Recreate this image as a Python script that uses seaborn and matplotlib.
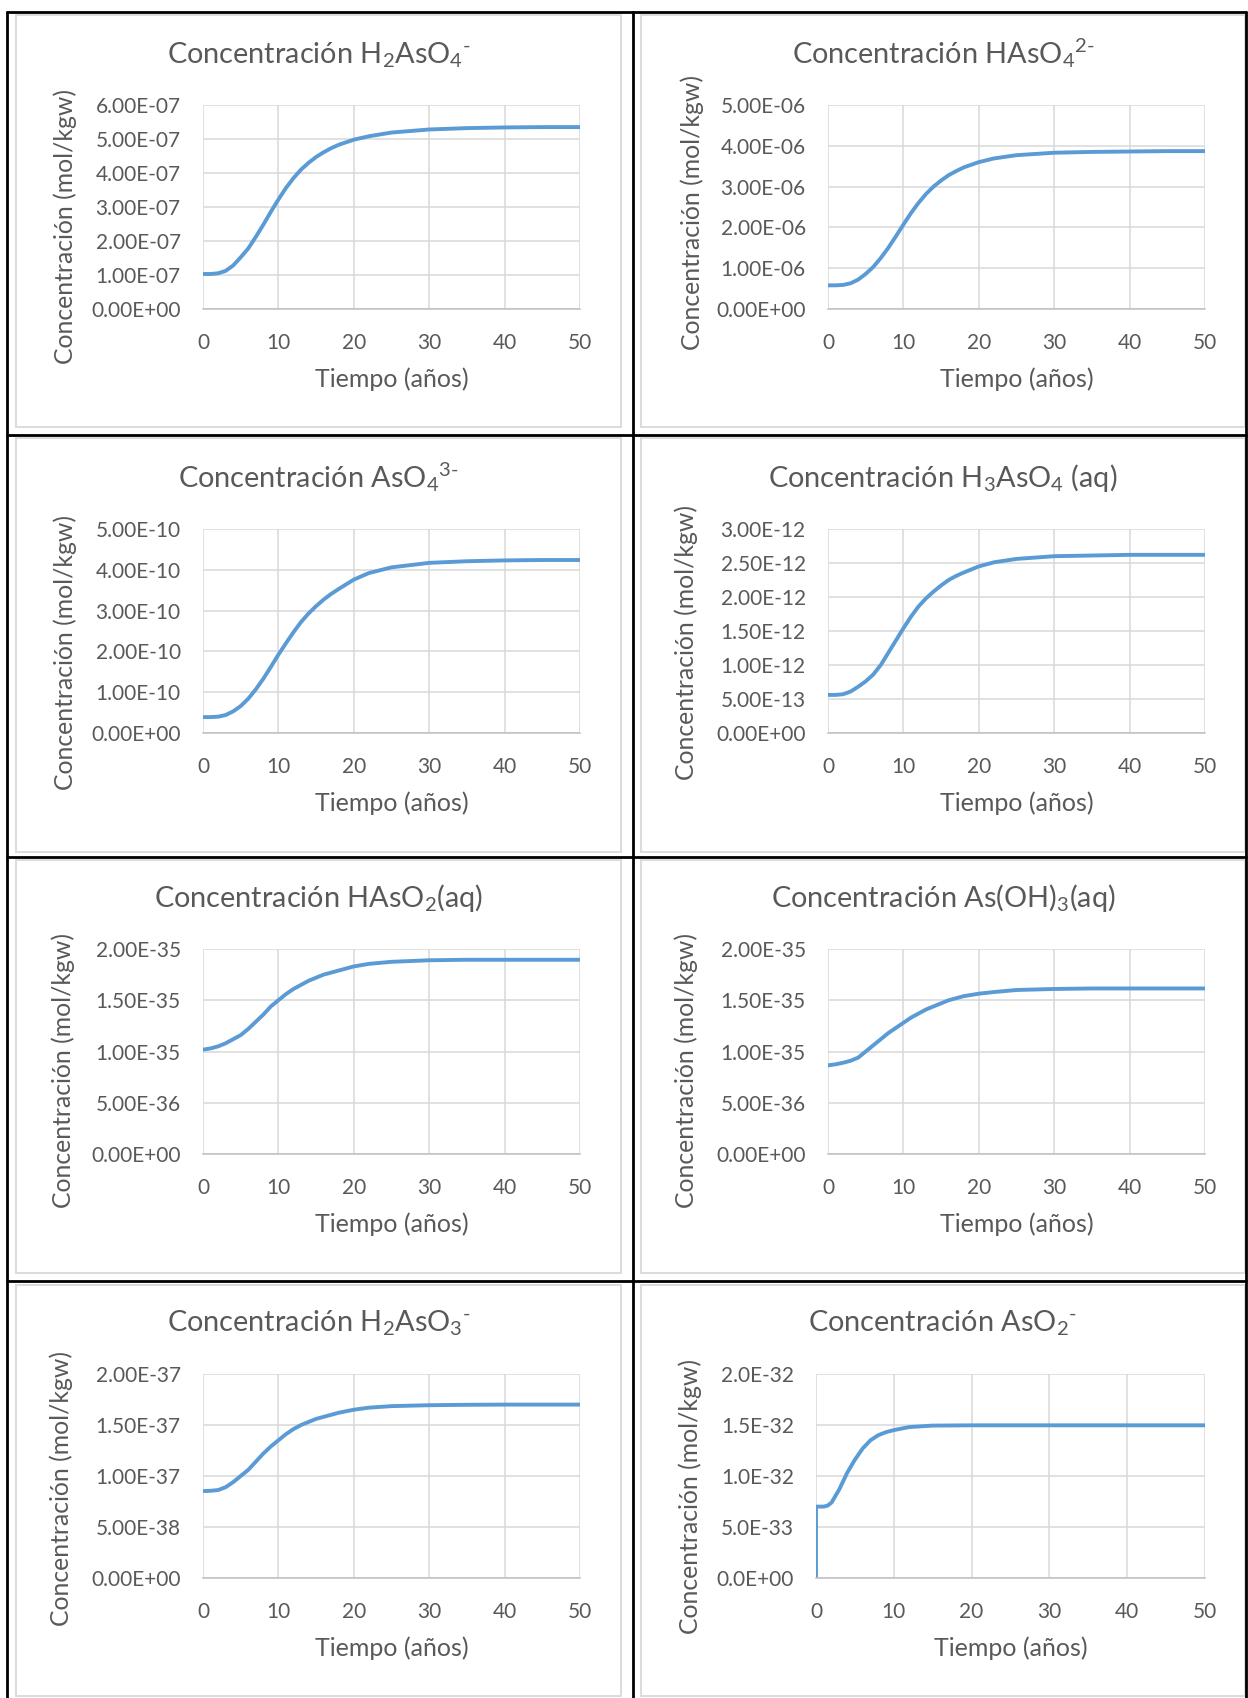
import numpy as np
import matplotlib
matplotlib.use("Agg")
import matplotlib.pyplot as plt
from matplotlib.patches import Rectangle
from matplotlib.lines import Line2D
from matplotlib.ticker import FuncFormatter
import seaborn as sns

# ---- data (time in years) ----
t_years = [0, 1, 2, 3, 4, 5, 6, 7, 8, 9, 10, 11, 12, 13, 14, 15, 16, 17, 18,
           20, 22, 25, 30, 35, 40, 45, 50]

h2aso4 = np.array([1.03, 1.03, 1.05, 1.12, 1.28, 1.52, 1.78, 2.12, 2.48, 2.86, 3.22, 3.56,
                   3.85, 4.1, 4.3, 4.47, 4.61, 4.73, 4.83, 4.98, 5.08, 5.19, 5.28, 5.32,
                   5.34, 5.35, 5.35]) * 1e-7
haso4 = np.array([0.58, 0.58, 0.59, 0.63, 0.72, 0.86, 1.03, 1.25, 1.5, 1.78, 2.07, 2.35,
                  2.6, 2.82, 3.0, 3.15, 3.28, 3.38, 3.47, 3.6, 3.69, 3.77, 3.83, 3.85,
                  3.86, 3.87, 3.87]) * 1e-6
aso4 = np.array([0.39, 0.39, 0.4, 0.44, 0.53, 0.66, 0.84, 1.07, 1.33, 1.62, 1.92, 2.2,
                 2.47, 2.72, 2.93, 3.11, 3.27, 3.41, 3.53, 3.76, 3.92, 4.06, 4.17, 4.21,
                 4.23, 4.24, 4.24]) * 1e-10
h3aso4 = np.array([0.56, 0.56, 0.57, 0.61, 0.68, 0.76, 0.86, 1.0, 1.18, 1.36, 1.54, 1.71,
                   1.86, 1.98, 2.08, 2.17, 2.25, 2.31, 2.36, 2.45, 2.51, 2.56, 2.6, 2.61,
                   2.62, 2.62, 2.62]) * 1e-12
haso2 = np.array([1.018, 1.03, 1.05, 1.08, 1.12, 1.16, 1.22, 1.29, 1.36, 1.44, 1.5, 1.56,
                  1.61, 1.65, 1.69, 1.72, 1.75, 1.77, 1.79, 1.83, 1.855, 1.875, 1.89, 1.895,
                  1.895, 1.895, 1.895]) * 1e-35
asoh3 = np.array([0.865, 0.875, 0.89, 0.91, 0.94, 1.0, 1.06, 1.12, 1.18, 1.23, 1.28, 1.33,
                  1.37, 1.41, 1.44, 1.47, 1.5, 1.52, 1.54, 1.564, 1.58, 1.6, 1.61, 1.615,
                  1.615, 1.615, 1.615]) * 1e-35
h2aso3 = np.array([0.852, 0.855, 0.862, 0.89, 0.94, 1.0, 1.06, 1.14, 1.22, 1.29, 1.35, 1.41,
                   1.46, 1.5, 1.53, 1.56, 1.58, 1.6, 1.62, 1.65, 1.67, 1.685, 1.694, 1.698,
                   1.7, 1.7, 1.7]) * 1e-37

t_aso2 = [0, 0, 1, 1.5, 2, 3, 4, 5, 6, 7, 8, 9, 10, 12, 15, 20, 30, 40, 50]
aso2 = np.array([0, 0.7, 0.7, 0.71, 0.74, 0.87, 1.03, 1.16, 1.27, 1.35, 1.4, 1.43, 1.45,
                 1.48, 1.494, 1.497, 1.497, 1.497, 1.497]) * 1e-32

titles = ["Concentración H$_2$AsO$_4$$^{\\text{-}}$",
          "Concentración HAsO$_4$$^{\\text{2-}}$",
          "Concentración AsO$_4$$^{\\text{3-}}$",
          "Concentración H$_3$AsO$_4$ (aq)",
          "Concentración HAsO$_2$(aq)",
          "Concentración As(OH)$_3$(aq)",
          "Concentración H$_2$AsO$_3$$^{\\text{-}}$",
          "Concentración AsO$_2$$^{\\text{-}}$"]
y_max = [6e-7, 5e-6, 5e-10, 3e-12, 2e-35, 2e-35, 2e-37, 2e-32]
y_step = [1e-7, 1e-6, 1e-10, 5e-13, 5e-36, 5e-36, 5e-38, 5e-33]
y_fmt = ["{:.2E}"] * 7 + ["{:.1E}"]
x_ticks = [0, 10, 20, 30, 40, 50]

series = [(t_years, h2aso4), (t_years, haso4), (t_years, aso4), (t_years, h3aso4),
          (t_years, haso2), (t_years, asoh3), (t_years, h2aso3), (t_aso2, aso2)]

# ---- layout (pixels of the 1248x1698 page) ----
W, H = 1248, 1698
plot_rects = [(203, 105, 580, 309), (828, 105, 1205, 309),
              (203, 529, 580, 733), (828, 529, 1205, 733),
              (203, 949, 580, 1154), (828, 949, 1205, 1154),
              (203, 1374, 580, 1578), (816, 1374, 1205, 1578)]
ylabel_pos = [(65, 227), (692, 212), (65, 652), (686, 642),
              (63, 1070), (686, 1070), (61, 1489), (690, 1497)]
title_base = [63, 487, 907, 1332]
box_x = [(16, 621), (641, 1245)]
box_y = [(15, 427), (438, 852), (860, 1273), (1285, 1696)]

sns.set_theme(style="white")
plt.rcParams["font.family"] = ["Lato", "DejaVu Sans"]
plt.rcParams["mathtext.fontset"] = "custom"
plt.rcParams["mathtext.rm"] = "Lato"
plt.rcParams["mathtext.it"] = "Lato:italic"
plt.rcParams["mathtext.default"] = "regular"

TXT = "#595959"
GRID = "#D9D9D9"
BLUE = "#5B9BD5"

fig = plt.figure(figsize=(W / 100, H / 100), dpi=100, facecolor="white")


def fx(x):
    return x / W


def fy(y):
    return 1 - y / H


# chart frames (light grey) and table borders (black)
for (y0, y1) in box_y:
    for (x0, x1) in box_x:
        fig.patches.append(Rectangle((fx(x0), fy(y1)), fx(x1 - x0), (y1 - y0) / H,
                                     transform=fig.transFigure, fill=False,
                                     edgecolor=GRID, lw=1.3))
for xv in [7, 633, 1246]:
    fig.lines.append(Line2D([fx(xv), fx(xv)], [fy(12), 0], transform=fig.transFigure,
                            color="black", lw=2))
for yv in [12, 435, 857, 1281]:
    fig.lines.append(Line2D([fx(7), fx(1246)], [fy(yv), fy(yv)], transform=fig.transFigure,
                            color="black", lw=2))

for i, (x0, y0, x1, y1) in enumerate(plot_rects):
    ax = fig.add_axes([fx(x0), fy(y1), fx(x1 - x0), (y1 - y0) / H])
    t, vals = series[i]
    sns.lineplot(x=t, y=vals, ax=ax, color=BLUE, linewidth=2.8,
                 estimator=None, sort=False)
    ax.set_xlim(0, 50)
    ax.set_ylim(0, y_max[i])
    ax.set_xticks(x_ticks)
    ax.set_yticks(np.arange(0, y_max[i] + y_step[i] / 2, y_step[i]))
    fmt = y_fmt[i]
    ax.yaxis.set_major_formatter(FuncFormatter(lambda v, p, f=fmt: f.format(v)))
    ax.grid(True, color=GRID, lw=1.1)
    ax.set_axisbelow(True)
    for s in ["left", "right", "top"]:
        ax.spines[s].set_visible(False)
    ax.spines["bottom"].set_color("#BFBFBF")
    ax.spines["bottom"].set_linewidth(1.1)
    ax.tick_params(axis="both", length=0, labelsize=15, labelcolor=TXT)
    ax.tick_params(axis="x", pad=17)
    ax.tick_params(axis="y", pad=16)
    ax.set_xlabel("")
    ax.set_ylabel("")
    ax.set_facecolor("white")

    col = i % 2
    row = i // 2
    cx = (box_x[col][0] + box_x[col][1]) / 2
    fig.text(fx(cx), fy(title_base[row]), titles[i], ha="center", va="baseline",
             fontsize=20.8, color=TXT)
    fig.text(fx((x0 + x1) / 2), fy(y1 + 78), "Tiempo (años)", ha="center",
             va="baseline", fontsize=18, color=TXT)
    lx, ly = ylabel_pos[i]
    fig.text(fx(lx), fy(ly), "Concentración (mol/kgw)", rotation=90, ha="center",
             va="center", fontsize=17.8, color=TXT)

fig.savefig("out.png", dpi=100, facecolor="white")
